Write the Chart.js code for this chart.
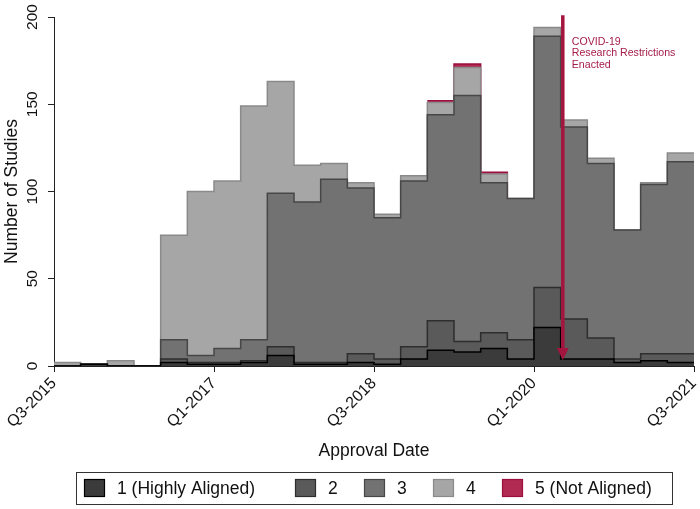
<!DOCTYPE html>
<html>
<head>
<meta charset="utf-8">
<script src="https://cdn.jsdelivr.net/npm/chart.js@4.4.1/dist/chart.umd.min.js"></script>
<style>
  html, body { margin: 0; padding: 0; background: #fff; }
  #wrap { width: 700px; height: 509px; }
</style>
</head>
<body>
<div id="wrap"><canvas id="studiesChart" width="700" height="509"></canvas></div>
<script>
// approval quarters (one bin per quarter)
const quarters = ['Q3-2015', 'Q4-2015', 'Q1-2016', 'Q2-2016', 'Q3-2016', 'Q4-2016',
  'Q1-2017', 'Q2-2017', 'Q3-2017', 'Q4-2017', 'Q1-2018', 'Q2-2018',
  'Q3-2018', 'Q4-2018', 'Q1-2019', 'Q2-2019', 'Q3-2019', 'Q4-2019',
  'Q1-2020', 'Q2-2020', 'Q3-2020', 'Q4-2020', 'Q1-2021', 'Q2-2021'];
const tickLabels = ['Q3-2015', 'Q1-2017', 'Q3-2018', 'Q1-2020', 'Q3-2021'];
const yTicks = [0, 50, 100, 150, 200];

// number of studies per alignment score
const aligned1 = [0, 1, 0, 0, 2, 1, 1, 2, 6, 1, 1, 2, 1, 4, 9, 8, 10, 4, 22, 4, 4, 2, 3, 2];
const aligned2 = [0, 0, 0, 0, 2, 1, 1, 1, 5, 1, 1, 5, 3, 7, 17, 6, 9, 11, 23, 23, 12, 2, 4, 5];
const aligned3 = [0, 0, 0, 0, 11, 4, 8, 12, 88, 92, 105, 95, 81, 95, 118, 141, 86, 81, 144, 110, 100, 74, 97, 110];
const aligned4 = [2, 0, 3, 0, 60, 94, 96, 134, 64, 21, 9, 3, 2, 3, 7, 16, 5, 0, 5, 4, 3, 0, 1, 5];
const aligned5 = [0, 0, 0, 0, 0, 0, 0, 0, 0, 0, 0, 0, 0, 0, 1, 2, 1, 0, 0, 0, 0, 0, 0, 0];

const seriesLabels = ['1 (Highly Aligned)', '2', '3', '4', '5 (Not Aligned)'];
const covidAt = 19.08; // quarter index where restrictions start
const covidText = ['COVID-19', 'Research Restrictions', 'Enacted'];

const FONT = "'Liberation Sans', Arial, Helvetica, sans-serif";
const RED = '#a3143f';

// step outline: one point per bin start plus closing point
function steps(vals) {
  const pts = vals.map((v, i) => ({ x: i, y: v }));
  pts.push({ x: vals.length, y: vals[vals.length - 1] });
  return pts;
}

function layer(label, vals, fill, line, first, hideEmpty) {
  const ds = {
    label: label,
    data: steps(vals),
    stepped: 'before',
    fill: first ? 'origin' : '-1',
    backgroundColor: fill,
    borderColor: line,
    borderWidth: 1.5,
    pointRadius: 0,
    pointHoverRadius: 0
  };
  if (hideEmpty) {
    ds.segment = { borderColor: c => (vals[c.p0DataIndex] > 0 ? line : 'rgba(0,0,0,0)') };
  }
  return ds;
}

// rotated y tick labels, arrow + note, boxed legend
const extras = {
  id: 'extras',
  afterDraw(chart) {
    const ctx = chart.ctx;
    const xs = chart.scales.x, ys = chart.scales.y;
    ctx.save();

    ctx.fillStyle = '#111';
    ctx.font = '15.5px ' + FONT;
    ctx.textAlign = 'center';
    ctx.textBaseline = 'middle';
    yTicks.forEach(v => {
      ctx.save();
      ctx.translate(33, ys.getPixelForValue(v));
      ctx.rotate(-Math.PI / 2);
      ctx.fillText(String(v), 0, 0);
      ctx.restore();
    });

    // covid arrow
    const ax = xs.getPixelForValue(covidAt);
    const top = ys.getPixelForValue(201);
    const tip = ys.getPixelForValue(3.5);
    ctx.strokeStyle = RED;
    ctx.fillStyle = RED;
    ctx.lineWidth = 3.5;
    ctx.beginPath();
    ctx.moveTo(ax, top);
    ctx.lineTo(ax, tip - 8);
    ctx.stroke();
    ctx.beginPath();
    ctx.moveTo(ax - 6, tip - 12);
    ctx.lineTo(ax + 6, tip - 12);
    ctx.lineTo(ax, tip);
    ctx.closePath();
    ctx.fill();

    ctx.font = '10.6px ' + FONT;
    ctx.textAlign = 'left';
    ctx.fillStyle = '#a51c48';
    covidText.forEach((t, i) => ctx.fillText(t, ax + 9, 42 + i * 11.4));

    // legend
    ctx.strokeStyle = '#333';
    ctx.lineWidth = 1;
    ctx.strokeRect(76.5, 472.5, 596, 32);
    const starts = [84, 295, 364, 433, 502];
    ctx.font = '17.5px ' + FONT;
    ctx.textBaseline = 'middle';
    chart.data.datasets.forEach((ds, i) => {
      const x = starts[i];
      ctx.fillStyle = ds.backgroundColor;
      ctx.fillRect(x, 479, 21, 18);
      ctx.strokeStyle = ds.borderColor;
      ctx.lineWidth = 1.2;
      ctx.strokeRect(x + 0.5, 479.5, 20, 17);
      ctx.fillStyle = '#111';
      ctx.fillText(ds.label, x + 33, 489);
    });
    ctx.restore();
  }
};

const ctx = document.getElementById('studiesChart').getContext('2d');
const studiesChart = new Chart(ctx, {
  type: 'line',
  data: {
    datasets: [
      layer(seriesLabels[0], aligned1, '#3b3b3b', '#000000', true, false),
      layer(seriesLabels[1], aligned2, '#5a5a5a', '#2e2e2e', false, false),
      layer(seriesLabels[2], aligned3, '#727272', '#474747', false, false),
      layer(seriesLabels[3], aligned4, '#a6a6a6', '#8a8a8a', false, false),
      layer(seriesLabels[4], aligned5, '#b02a52', '#9c0f3c', false, true)
    ]
  },
  options: {
    responsive: false,
    animation: false,
    layout: { padding: { top: 17, right: 6, left: 0, bottom: 0 } },
    plugins: {
      legend: { display: false },
      tooltip: { enabled: false }
    },
    scales: {
      x: {
        type: 'linear',
        min: 0,
        max: quarters.length,
        ticks: {
          stepSize: 6,
          autoSkip: false,
          minRotation: 45,
          maxRotation: 45,
          padding: 2,
          color: '#111',
          font: { family: FONT, size: 16 },
          callback: v => tickLabels[v / 6]
        },
        grid: { drawOnChartArea: false, tickLength: 6, color: '#222' },
        border: { color: '#222' },
        title: {
          display: true,
          text: 'Approval Date',
          color: '#111',
          font: { family: FONT, size: 17.5 },
          padding: { top: 0, bottom: 47.5 }
        },
        afterFit: s => { s.height = 143; s.paddingLeft = 0; s.paddingRight = 0; }
      },
      y: {
        stacked: true,
        min: 0,
        max: 200,
        ticks: { stepSize: 50, display: false },
        grid: { drawOnChartArea: false, tickLength: 6, color: '#222' },
        border: { color: '#222' },
        title: {
          display: true,
          text: 'Number of Studies',
          color: '#111',
          font: { family: FONT, size: 17.5 },
          padding: { top: 2, bottom: 0 }
        },
        afterFit: s => { s.width = 54; }
      }
    }
  },
  plugins: [extras]
});
</script>
</body>
</html>
